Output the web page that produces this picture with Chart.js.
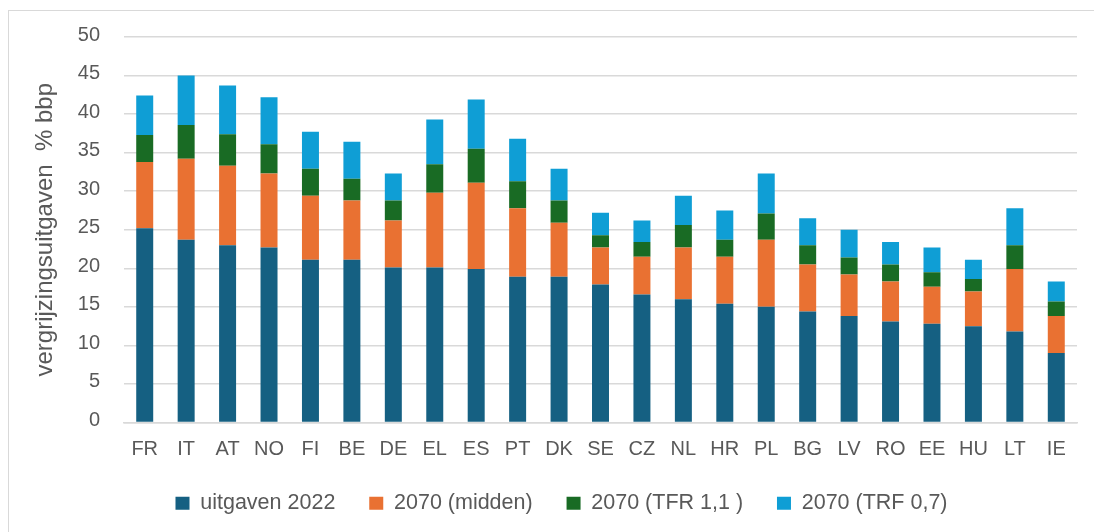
<!DOCTYPE html>
<html>
<head>
<meta charset="utf-8">
<script src="https://cdn.jsdelivr.net/npm/chart.js@4.4.1/dist/chart.umd.min.js"></script>
<style>
  html, body { margin: 0; padding: 0; background: #fff; }
  #wrap { position: relative; width: 1094px; height: 532px; overflow: hidden; }
  #frame { position: absolute; left: 8px; top: 10px; width: 1200px; height: 600px; border: 1.5px solid #d9d9d9; box-sizing: border-box; }
  canvas { position: absolute; left: 0; top: 0; }
</style>
</head>
<body>
<div id="wrap">
  <div id="frame"></div>
  <canvas id="c" width="1094" height="532"></canvas>
</div>
<script>
// Categories (countries)
const categories = ["FR","IT","AT","NO","FI","BE","DE","EL","ES","PT","DK","SE","CZ","NL","HR","PL","BG","LV","RO","EE","HU","LT","IE"];

// Stacked segment heights (% bbp)
const uitgaven2022   = [25.2,23.7,23.0,22.7,21.1,21.1,20.1,20.1,19.9,18.9,18.9,17.9,16.6,16.0,15.4,15.0,14.4,13.8,13.1,12.8,12.5,11.8,9.0];
const midden2070     = [8.6,10.5,10.3,9.6,8.3,7.7,6.1,9.7,11.2,8.9,7.0,4.8,4.9,6.7,6.1,8.7,6.1,5.4,5.2,4.8,4.5,8.1,4.8];
const tfr11_2070     = [3.5,4.4,4.1,3.8,3.5,2.8,2.6,3.7,4.4,3.5,2.9,1.6,1.9,2.9,2.2,3.4,2.5,2.2,2.2,1.9,1.6,3.1,1.9];
const trf07_2070     = [5.1,6.4,6.3,6.1,4.8,4.8,3.5,5.8,6.4,5.5,4.1,2.9,2.8,3.8,3.8,5.2,3.5,3.6,2.9,3.2,2.5,4.8,2.6];

const seriesNames = ["uitgaven 2022", "2070 (midden)", "2070 (TFR 1,1 )", "2070 (TRF 0,7)"];
const seriesColors = ["#156082", "#E97132", "#196B24", "#0F9ED5"];

// Y axis ticks
const yTicks = [0,5,10,15,20,25,30,35,40,45,50];
const yTitle = "vergrijzingsuitgaven  % bbp";

const FONT = "'Liberation Sans', Arial, sans-serif";
const TXT = "#595959";

const seriesData = [uitgaven2022, midden2070, tfr11_2070, trf07_2070];
const datasets = seriesData.map((d, i) => ({
  label: seriesNames[i],
  data: d,
  backgroundColor: seriesColors[i],
  borderWidth: 0,
  stack: "s",
  categoryPercentage: 1.0,
  barPercentage: 0.41
}));

new Chart(document.getElementById("c"), {
  type: "bar",
  data: { labels: categories, datasets },
  options: {
    responsive: false,
    animation: false,
    devicePixelRatio: 1,
    layout: { padding: { left: 46, right: 17, top: 37, bottom: 8 } },
    plugins: {
      tooltip: { enabled: false },
      legend: {
        position: "bottom",
        labels: {
          boxWidth: 14,
          boxHeight: 13,
          padding: 16,
          color: TXT,
          font: { family: FONT, size: 21.5 },
          generateLabels: (chart) => {
            const items = Chart.defaults.plugins.legend.labels.generateLabels(chart);
            items.forEach((it, i) => { if (i < items.length - 1) it.text = it.text + "   "; });
            return items;
          }
        }
      }
    },
    scales: {
      x: {
        stacked: true,
        grid: { display: false, drawTicks: false },
        border: { display: true, color: "#d9d9d9", width: 1.5 },
        ticks: { color: TXT, font: { family: FONT, size: 20 }, padding: 15, maxRotation: 0, autoSkip: false }
      },
      y: {
        stacked: true,
        min: 0, max: 50,
        afterBuildTicks: (scale) => { scale.ticks = yTicks.map(v => ({ value: v })); },
        afterFit: (scale) => { scale.width = 78; },
        grid: { color: "#d9d9d9", lineWidth: 1.5, drawTicks: false },
        border: { display: false },
        ticks: { color: TXT, font: { family: FONT, size: 20 }, padding: 24, labelOffset: -2 },
        title: {
          display: true,
          text: yTitle,
          color: TXT,
          font: { family: FONT, size: 24 },
          padding: { top: -15.4, bottom: 0 }
        }
      }
    }
  }
});
</script>
</body>
</html>
